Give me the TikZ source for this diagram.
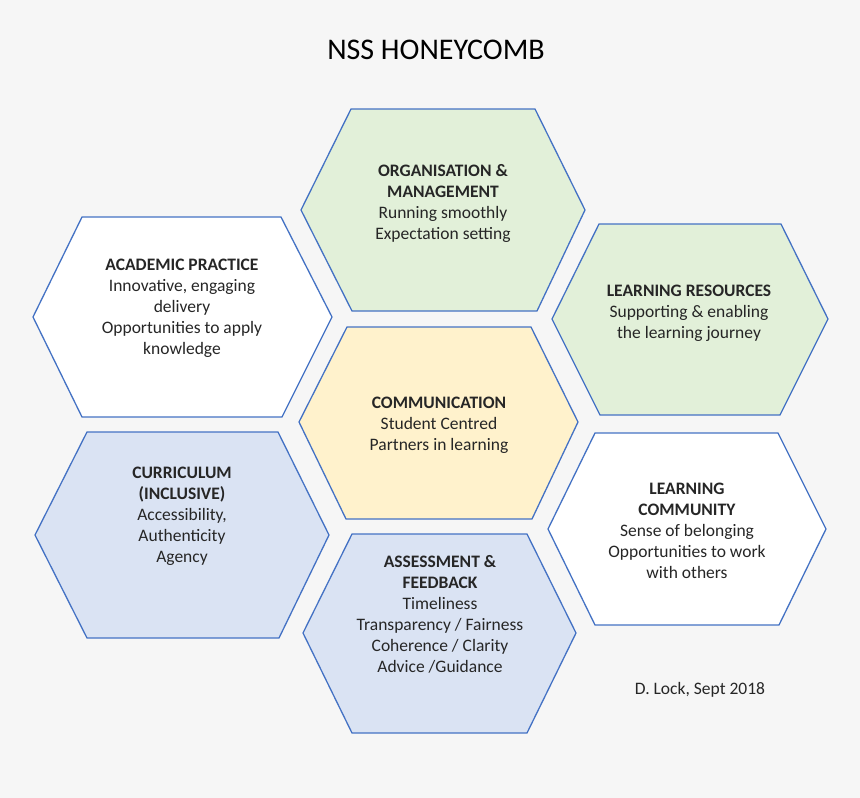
\documentclass[tikz,border=0pt]{standalone}
\usepackage{fontspec}
\setmainfont{Carlito}
\usepackage{tikz}
\usetikzlibrary{positioning}

\definecolor{bggrey}{HTML}{F6F6F6}
\definecolor{cellblue}{HTML}{4472C4}
\definecolor{cellgreen}{HTML}{E2F0D9}
\definecolor{cellsky}{HTML}{DAE3F3}
\definecolor{cellyellow}{HTML}{FFF2CC}

\begin{document}
\begin{tikzpicture}[
    x=1pt, y=-1pt,
    cell/.style={draw=cellblue, line width=1.3pt, line join=miter},
    celltext/.style={align=center, inner sep=0pt, text=black!85, font=\fontsize{17.5}{21}\selectfont}
]

% Background
\fill[bggrey] (0,0) rectangle (860,798);
\useasboundingbox (0,0) rectangle (860,798);

% Title
\node[inner sep=0pt, font=\fontsize{30}{36}\selectfont] (title) at (436,50) {NSS HONEYCOMB};

% Cells
\draw[cell, fill=cellgreen] (351,109) -- (535,109) -- (585,210) -- (537,311) -- (352,311) -- (301,210) -- cycle;
\draw[cell, fill=white] (82,217) -- (281,217) -- (332,317) -- (282,417) -- (82,417) -- (33,317) -- cycle;
\draw[cell, fill=cellgreen] (599,224) -- (781,224) -- (828,319) -- (780,415) -- (600,415) -- (552,319) -- cycle;
\draw[cell, fill=cellyellow] (347,327) -- (531,327) -- (578,422) -- (532,519) -- (346,519) -- (299,422) -- cycle;
\draw[cell, fill=cellsky] (87,432) -- (278,432) -- (329,535) -- (279,638) -- (87,638) -- (35,535) -- cycle;
\draw[cell, fill=white] (595,433) -- (778,433) -- (826,529) -- (779,625) -- (595,625) -- (548,529) -- cycle;
\draw[cell, fill=cellsky] (352,534) -- (527,534) -- (576,633) -- (527,733) -- (352,733) -- (303,633) -- cycle;

% Texts
\node[celltext] (organisation) at (443,203) {\textbf{ORGANISATION \&}\\\textbf{MANAGEMENT}\\Running smoothly\\Expectation setting};

\node[celltext] (academic) at (182,308) {\textbf{ACADEMIC PRACTICE}\\Innovative, engaging\\delivery\\Opportunities to apply\\knowledge};

\node[celltext] (resources) at (689,313) {\textbf{LEARNING RESOURCES}\\Supporting \& enabling\\the learning journey};

\node[celltext] (communication) at (439,425) {\textbf{COMMUNICATION}\\Student Centred\\Partners in learning};

\node[celltext] (curriculum) at (182,516) {\textbf{CURRICULUM}\\\textbf{(INCLUSIVE)}\\Accessibility,\\Authenticity\\Agency};

\node[celltext] (community) at (687,531) {\textbf{LEARNING}\\\textbf{COMMUNITY}\\Sense of belonging\\Opportunities to work\\with others};

\node[celltext] (assessment) at (440,614) {\textbf{ASSESSMENT \&}\\\textbf{FEEDBACK}\\Timeliness\\Transparency / Fairness\\Coherence / Clarity\\Advice /Guidance};

% Credit
\node[celltext] (credit) at (700,690) {D. Lock, Sept 2018};

\end{tikzpicture}
\end{document}
